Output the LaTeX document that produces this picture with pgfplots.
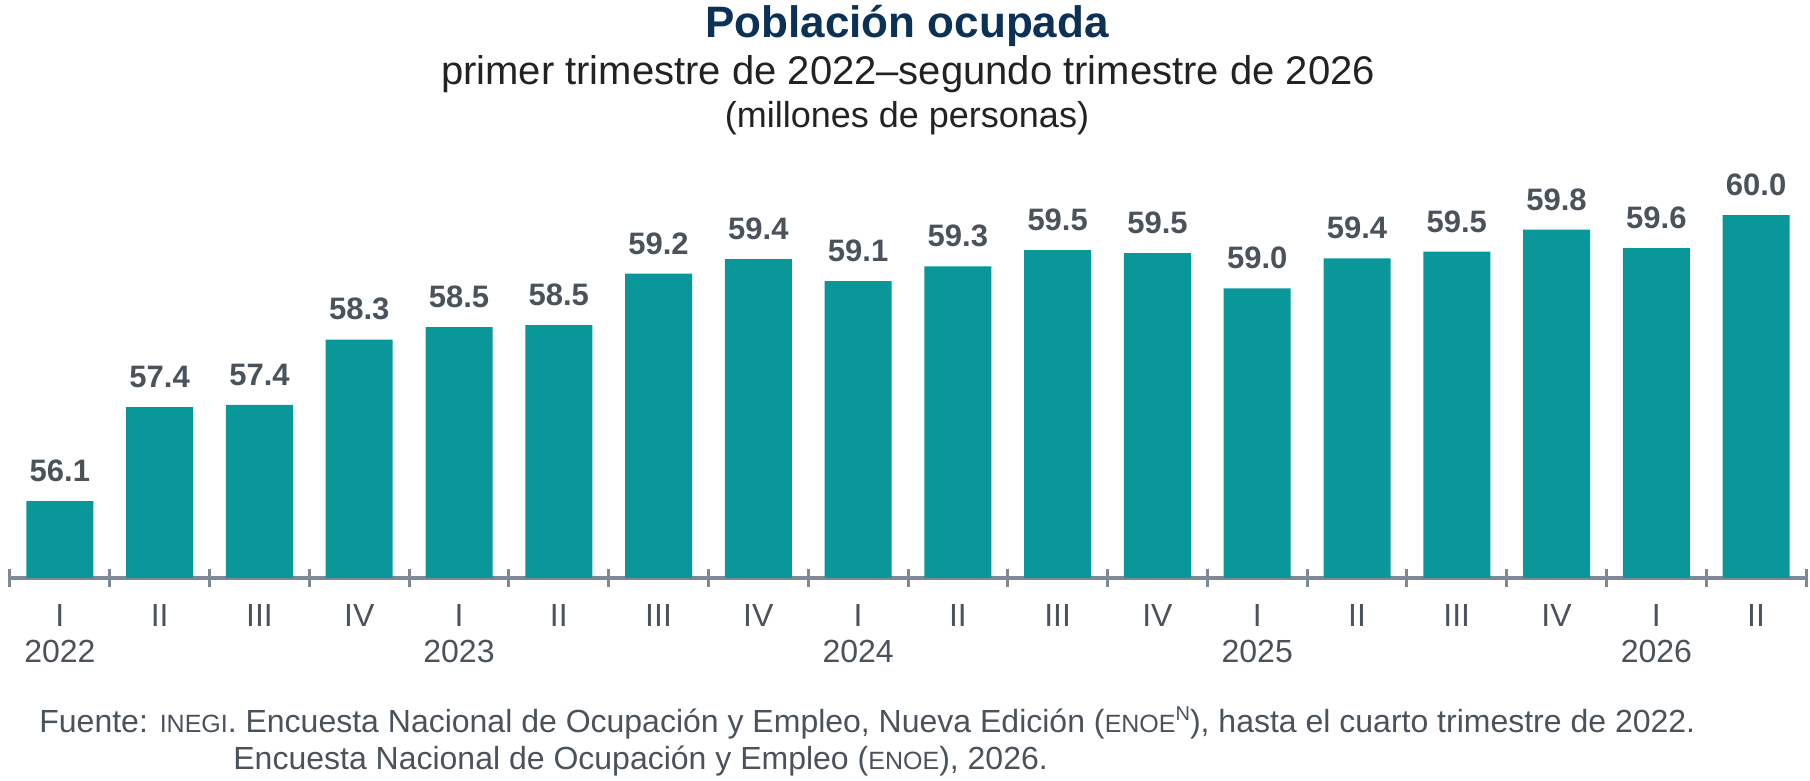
\documentclass[border=0pt]{standalone}
\usepackage{fontspec}
\setmainfont{Liberation Sans}
\usepackage{pgfplots}
\pgfplotsset{compat=1.18}
\definecolor{barc}{RGB}{10,151,153}
\definecolor{navy}{RGB}{11,49,87}
\definecolor{lab}{RGB}{74,82,91}
\definecolor{axgray}{RGB}{125,138,150}
\definecolor{subc}{RGB}{34,34,34}
\pgfplotstableread{
x y
0 56.10
1 57.38
2 57.41
3 58.30
4 58.47
5 58.50
6 59.20
7 59.40
8 59.10
9 59.30
10 59.52
11 59.48
12 59.00
13 59.41
14 59.50
15 59.80
16 59.55
17 60.00
}\datatable
\begin{document}
\begin{tikzpicture}[x=1pt,y=1pt]
\path[use as bounding box] (0,0) rectangle (905,390.5);
\node[anchor=base, inner sep=0pt, font=\fontsize{22}{24}\selectfont\bfseries, text=navy] at (453.5,371.5) {Población ocupada};
\node[anchor=base, inner sep=0pt, font=\fontsize{20}{22}\selectfont, text=subc] at (454,348) {primer trimestre de 2022–segundo trimestre de 2026};
\node[anchor=base, inner sep=0pt, font=\fontsize{18}{22}\selectfont, text=subc] at (453.5,326.5) {(millones de personas)};
\begin{axis}[
  at={(5pt,101.5pt)}, anchor=south west,
  scale only axis, width=898pt, height=199.8pt,
  xmin=-0.5, xmax=17.5, ymin=55.05, ymax=60.5,
  clip=false,
  axis y line=none,
  axis x line*=bottom,
  axis line style={axgray, line width=2pt, -},
  ybar, bar width=33.5pt, bar shift=0pt,
  xtick={0,...,17},
  xticklabels={I,II,III,IV,I,II,III,IV,I,II,III,IV,I,II,III,IV,I,II},
  major tick length=0pt,
  minor xtick={-0.5,0.5,...,17.5},
  minor tick length=9pt,
  tick align=center,
  every tick/.style={axgray, line width=1.5pt},
  xticklabel style={anchor=base, yshift=-24.5pt, inner sep=0pt, font=\fontsize{16}{18}\selectfont, text=lab},
  nodes near coords={\pgfmathprintnumber[assume math mode=true,fixed,fixed zerofill,precision=1]{\pgfplotspointmeta}},
  point meta=y,
  every node near coord/.append style={font=\fontsize{15.5}{18}\selectfont\bfseries, text=lab, inner sep=0pt, anchor=south, yshift=9.5pt},
]
\addplot[fill=barc, draw=none] table[x=x,y=y] {\datatable};
\node[anchor=base, inner sep=0pt, font=\fontsize{16}{18}\selectfont, text=lab] at (axis cs:0,55.05) [yshift=-42.5pt] {2022};
\node[anchor=base, inner sep=0pt, font=\fontsize{16}{18}\selectfont, text=lab] at (axis cs:4,55.05) [yshift=-42.5pt] {2023};
\node[anchor=base, inner sep=0pt, font=\fontsize{16}{18}\selectfont, text=lab] at (axis cs:8,55.05) [yshift=-42.5pt] {2024};
\node[anchor=base, inner sep=0pt, font=\fontsize{16}{18}\selectfont, text=lab] at (axis cs:12,55.05) [yshift=-42.5pt] {2025};
\node[anchor=base, inner sep=0pt, font=\fontsize{16}{18}\selectfont, text=lab] at (axis cs:16,55.05) [yshift=-42.5pt] {2026};
\end{axis}
\node[anchor=base west, inner sep=0pt, font=\fontsize{16}{18}\selectfont, text=lab] at (19.5,24) {Fuente: {\fontsize{12.5}{12}\selectfont INEGI}. Encuesta Nacional de Ocupación y Empleo, Nueva Edición ({\fontsize{12.5}{12}\selectfont ENOE}\raisebox{6pt}{\fontsize{10}{10}\selectfont N}), hasta el cuarto trimestre de 2022.};
\node[anchor=base west, inner sep=0pt, font=\fontsize{16}{18}\selectfont, text=lab] at (116.5,5.5) {Encuesta Nacional de Ocupación y Empleo ({\fontsize{12.5}{12}\selectfont ENOE}), 2026.};
\end{tikzpicture}
\end{document}
